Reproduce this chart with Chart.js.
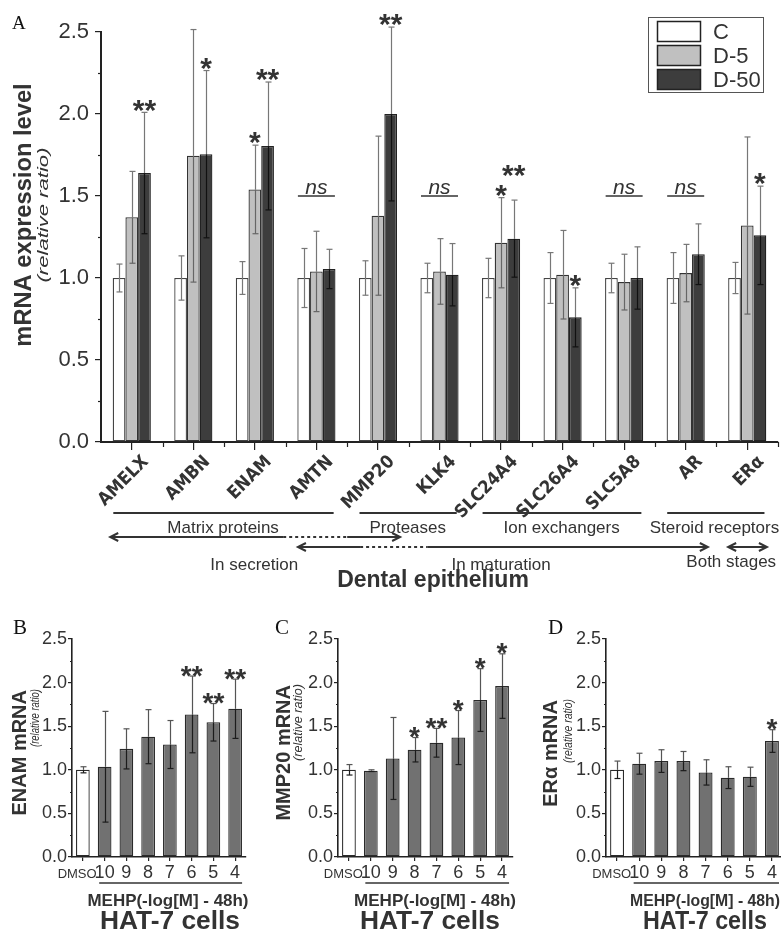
<!DOCTYPE html>
<html>
<head>
<meta charset="utf-8">
<script src="https://cdn.jsdelivr.net/npm/chart.js@4.4.1/dist/chart.umd.min.js"></script>
<style>
  html, body { margin: 0; padding: 0; background: #fff; }
  #fig { position: relative; width: 781px; height: 931px; overflow: hidden; }
  #fig canvas { position: absolute; }
</style>
</head>
<body>
<div id="fig">
  <canvas id="chartA" width="781" height="600" style="left:0;top:0"></canvas>
  <canvas id="chartB" width="260" height="331" style="left:0;top:600px"></canvas>
  <canvas id="chartC" width="260" height="331" style="left:260px;top:600px"></canvas>
  <canvas id="chartD" width="263" height="331" style="left:520px;top:600px"></canvas>
</div>
<script>
// ---- panel A : dental epithelium ----
const genes = ['AMELX', 'AMBN', 'ENAM', 'AMTN', 'MMP20', 'KLK4', 'SLC24A4', 'SLC26A4', 'SLC5A8', 'AR', 'ERα'];
const groups = ['C', 'D-5', 'D-50'];
const valC   = [1, 1, 1, 1, 1, 1, 1, 1, 1, 1, 1];
const valD5  = [1.37, 1.745, 1.54, 1.04, 1.38, 1.04, 1.215, 1.02, 0.975, 1.03, 1.32];
const valD50 = [1.64, 1.755, 1.805, 1.055, 2.0, 1.02, 1.24, 0.76, 1.0, 1.145, 1.26];
const errC   = [0.085, 0.135, 0.10, 0.18, 0.105, 0.09, 0.12, 0.155, 0.09, 0.155, 0.095];
const errD5  = [0.28, 0.77, 0.27, 0.245, 0.485, 0.20, 0.275, 0.27, 0.17, 0.175, 0.54];
const errD50 = [0.37, 0.51, 0.39, 0.12, 0.53, 0.19, 0.235, 0.18, 0.19, 0.185, 0.30];
const sigC   = ['', '', '', '', '', '', '', '', '', '', ''];
const sigD5  = ['', '', '*', '', '', '', '*', '', '', '', ''];
const sigD50 = ['**', '*', '**', '', '**', '', '**', '*', '', '', '*'];
const nsGenes = ['AMTN', 'KLK4', 'SLC5A8', 'AR'];
const nsLevel = 1.5;
const yTicksA = [0, 0.5, 1.0, 1.5, 2.0, 2.5];

// gene families (first / last gene index)
const families = ['Matrix proteins', 'Proteases', 'Ion exchangers', 'Steroid receptors'];
const familySpan = [[0, 3], [4, 5], [6, 8], [9, 10]];
// stage arrows in category units: start, dotted from, dotted to, end
const secretionArrow = [-0.35, 2.46, 3.5, 4.36];
const maturationArrow = [2.7, 3.71, 4.81, 9.36];
const bothArrow = [9.69, 10.32];

// ---- panels B-D : HAT-7 cells ----
const doses = ['DMSO', '10', '9', '8', '7', '6', '5', '4'];
const enamVal = [1.0, 1.035, 1.24, 1.38, 1.29, 1.635, 1.545, 1.70];
const enamErr = [0.035, 0.635, 0.23, 0.31, 0.275, 0.44, 0.215, 0.34];
const enamSig = ['', '', '', '', '', '**', '**', '**'];
const mmpVal = [1.0, 0.99, 1.13, 1.23, 1.31, 1.37, 1.80, 1.96];
const mmpErr = [0.06, 0.01, 0.47, 0.14, 0.165, 0.31, 0.36, 0.37];
const mmpSig = ['', '', '', '*', '**', '*', '*', '*'];
const eraVal = [1.0, 1.07, 1.10, 1.10, 0.97, 0.91, 0.92, 1.33];
const eraErr = [0.10, 0.12, 0.13, 0.11, 0.145, 0.125, 0.11, 0.13];
const eraSig = ['', '', '', '', '', '', '', '*'];

const SANS = '"Liberation Sans", Arial, Helvetica, sans-serif';
const NARROW = '"Liberation Sans Narrow", "DejaVu Sans Condensed", "Liberation Sans", sans-serif';
const SERIF = '"Liberation Serif", "Times New Roman", serif';
const INK = '#333';

function seg(ctx, x1, y1, x2, y2) {
    ctx.beginPath();
    ctx.moveTo(x1, y1);
    ctx.lineTo(x2, y2);
    ctx.stroke();
}

// text squeezed or stretched along its own direction to a given length
function fitText(ctx, text, x, y, len, align) {
    const w = ctx.measureText(text).width;
    ctx.save();
    ctx.translate(x, y);
    ctx.scale(len / w, 1);
    ctx.textAlign = align;
    ctx.fillText(text, 0, 0);
    ctx.restore();
}

function drawErrorBars(chart, errs, inColors, outColor, cap) {
    const ctx = chart.ctx;
    const ys = chart.scales.y;
    ctx.save();
    ctx.lineWidth = 1.2;
    chart.data.datasets.forEach((ds, i) => {
        chart.getDatasetMeta(i).data.forEach((bar, j) => {
            const v = ds.data[j], e = errs[i][j];
            const x = Math.round(bar.x) + 0.5;
            const yt = ys.getPixelForValue(v + e), yb = ys.getPixelForValue(v - e);
            ctx.strokeStyle = inColors[i];
            seg(ctx, x, yb, x, bar.y);
            seg(ctx, x - cap, yb, x + cap, yb);
            ctx.strokeStyle = outColor;
            seg(ctx, x, bar.y, x, yt);
            seg(ctx, x - cap, yt, x + cap, yt);
        });
    });
    ctx.restore();
}

function drawStars(chart, errs, sigs, size, gap) {
    const ctx = chart.ctx;
    const ys = chart.scales.y;
    ctx.save();
    ctx.fillStyle = INK;
    ctx.font = 'bold ' + size + 'px ' + SANS;
    ctx.textAlign = 'center';
    ctx.textBaseline = 'alphabetic';
    const lastTop = {};
    chart.data.datasets.forEach((ds, i) => {
        chart.getDatasetMeta(i).data.forEach((bar, j) => {
            const s = sigs[i][j];
            if (!s) return;
            const yt = ys.getPixelForValue(ds.data[j] + errs[i][j]);
            let inkBottom = yt - gap;
            if (lastTop[j] !== undefined && inkBottom > lastTop[j] - 10) inkBottom = lastTop[j] - 10;
            ctx.fillText(s, bar.x, inkBottom + size * 0.41);
            lastTop[j] = inkBottom - size * 0.33;
        });
    });
    ctx.restore();
}

function minorYTicks(chart, step, len) {
    const ctx = chart.ctx, ys = chart.scales.y, left = chart.chartArea.left;
    ctx.save();
    ctx.strokeStyle = '#222';
    ctx.lineWidth = 1.2;
    for (let v = step; v < ys.max; v += 2 * step) {
        const y = Math.round(ys.getPixelForValue(v)) + 0.5;
        seg(ctx, left - len, y, left, y);
    }
    ctx.restore();
}

function arrowHead(ctx, x, y, dir) {
    ctx.beginPath();
    ctx.moveTo(x + dir * 8, y - 4);
    ctx.lineTo(x, y);
    ctx.lineTo(x + dir * 8, y + 4);
    ctx.stroke();
}

const panelA = {
    id: 'panelA',
    afterDatasetsDraw(chart) {
        drawErrorBars(chart, [errC, errD5, errD50], ['#777', '#666', '#111'], '#777', 3);
    },
    afterDraw(chart) {
        const ctx = chart.ctx;
        const {x: xs, y: ys} = chart.scales;
        const area = chart.chartArea;
        const cw = xs.getPixelForValue(1) - xs.getPixelForValue(0);
        drawStars(chart, [errC, errD5, errD50], [sigC, sigD5, sigD50], 30, 5);
        minorYTicks(chart, 0.25, 3);

        ctx.save();
        ctx.strokeStyle = '#222';
        ctx.lineWidth = 1.2;
        for (let j = 1; j <= genes.length; j++) {
            const x = Math.round(xs.getPixelForValue(j - 0.5)) + 0.5;
            seg(ctx, x, area.bottom, x, area.bottom + 5);
        }

        // ns markers
        ctx.fillStyle = INK;
        ctx.strokeStyle = INK;
        ctx.font = 'italic 21px ' + SANS;
        ctx.textAlign = 'center';
        ctx.lineWidth = 1.5;
        const nsY = ys.getPixelForValue(nsLevel);
        nsGenes.forEach(g => {
            const x = xs.getPixelForValue(genes.indexOf(g));
            seg(ctx, x - 18.5, nsY, x + 18.5, nsY);
            ctx.fillText('ns', x, nsY - 2);
        });

        // rotated gene names
        ctx.font = 'bold 18px ' + NARROW;
        ctx.textAlign = 'right';
        ctx.textBaseline = 'middle';
        genes.forEach((g, j) => {
            ctx.save();
            ctx.translate(xs.getPixelForValue(j) + 14, area.bottom + 17);
            ctx.rotate(-Math.PI / 4);
            ctx.fillText(g, 0, 0);
            ctx.restore();
        });

        // families
        ctx.textBaseline = 'alphabetic';
        ctx.textAlign = 'center';
        ctx.font = '17px ' + SANS;
        ctx.lineWidth = 2.2;
        families.forEach((f, k) => {
            const x1 = xs.getPixelForValue(familySpan[k][0]) - 0.3 * cw;
            const x2 = xs.getPixelForValue(familySpan[k][1]) + 0.28 * cw;
            seg(ctx, x1, area.bottom + 71, x2, area.bottom + 71);
        });
        ctx.fillText(families[0], xs.getPixelForValue(1.5) - 1, area.bottom + 91);
        ctx.fillText(families[1], xs.getPixelForValue(4.5) - 1, area.bottom + 91);
        ctx.fillText(families[2], xs.getPixelForValue(7.0) - 1, area.bottom + 91);
        ctx.fillText(families[3], xs.getPixelForValue(9.5) - 2, area.bottom + 91);

        // stage arrows
        ctx.lineWidth = 2;
        [[secretionArrow, 95], [maturationArrow, 105]].forEach(([a, dy]) => {
            const y = area.bottom + dy;
            const p = a.map(v => xs.getPixelForValue(v));
            seg(ctx, p[0], y, p[1], y);
            seg(ctx, p[2], y, p[3], y);
            ctx.setLineDash([3, 3]);
            seg(ctx, p[1], y, p[2], y);
            ctx.setLineDash([]);
            arrowHead(ctx, p[0], y, 1);
            arrowHead(ctx, p[3], y, -1);
        });
        const b0 = xs.getPixelForValue(bothArrow[0]), b1 = xs.getPixelForValue(bothArrow[1]);
        seg(ctx, b0, area.bottom + 105, b1, area.bottom + 105);
        arrowHead(ctx, b0, area.bottom + 105, 1);
        arrowHead(ctx, b1, area.bottom + 105, -1);

        ctx.fillText('In secretion', xs.getPixelForValue(1.99), area.bottom + 128);
        ctx.fillText('In maturation', xs.getPixelForValue(6.0), area.bottom + 128);
        ctx.fillText('Both stages', xs.getPixelForValue(9.74), area.bottom + 125);
        ctx.font = 'bold 23px ' + SANS;
        ctx.fillText('Dental epithelium', 433, area.bottom + 145);

        // axis title
        ctx.save();
        ctx.translate(31, 215);
        ctx.rotate(-Math.PI / 2);
        ctx.font = 'bold 23.7px ' + SANS;
        ctx.textAlign = 'center';
        ctx.fillText('mRNA expression level', 0, 0);
        ctx.font = 'italic 15px ' + SANS;
        ctx.translate(0, 17);
        fitText(ctx, '(relative ratio)', 0, 0, 135, 'center');
        ctx.restore();

        // legend
        ctx.fillStyle = '#fff';
        ctx.strokeStyle = '#555';
        ctx.lineWidth = 1;
        ctx.fillRect(648.5, 17.5, 115, 75);
        ctx.strokeRect(648.5, 17.5, 115, 75);
        ctx.font = '22px ' + SANS;
        ctx.textAlign = 'left';
        ctx.textBaseline = 'middle';
        chart.data.datasets.forEach((ds, i) => {
            const top = 21.5 + i * 24;
            ctx.fillStyle = ds.backgroundColor;
            ctx.fillRect(657.5, top, 43, 20);
            ctx.strokeStyle = '#222';
            ctx.lineWidth = 1.5;
            ctx.strokeRect(657.5, top, 43, 20);
            ctx.fillStyle = INK;
            ctx.fillText(ds.label, 713, top + 11);
        });

        ctx.font = '19px ' + SERIF;
        ctx.textBaseline = 'alphabetic';
        ctx.fillStyle = '#111';
        ctx.fillText('A', 12, 29);
        ctx.restore();
    }
};

new Chart(document.getElementById('chartA'), {
    type: 'bar',
    data: {
        labels: genes,
        datasets: [
            {label: groups[0], data: valC, backgroundColor: '#ffffff', borderColor: '#444'},
            {label: groups[1], data: valD5, backgroundColor: '#c0c0c0', borderColor: '#333'},
            {label: groups[2], data: valD50, backgroundColor: '#3d3d3d', borderColor: '#222'}
        ]
    },
    options: {
        responsive: false,
        animation: false,
        devicePixelRatio: 1,
        layout: {padding: {top: 32, right: 3, left: 0, bottom: 0}},
        datasets: {bar: {categoryPercentage: 0.62, barPercentage: 1.0, borderWidth: 1.3, borderSkipped: false}},
        plugins: {legend: {display: false}, tooltip: {enabled: false}},
        scales: {
            x: {
                grid: {offset: false, drawOnChartArea: false, tickLength: 8, color: '#222', lineWidth: 1.2},
                border: {color: '#222', width: 2},
                ticks: {display: false},
                afterFit: s => { s.height = 158; }
            },
            y: {
                min: 0, max: 2.5,
                afterBuildTicks: s => { s.ticks = yTicksA.map(v => ({value: v})); },
                ticks: {callback: v => v.toFixed(1), font: {family: SANS, size: 22}, color: INK, padding: 6},
                grid: {drawOnChartArea: false, tickLength: 6, color: '#222', lineWidth: 1.2},
                border: {color: '#222', width: 2},
                afterFit: s => { s.width = 101; }
            }
        }
    },
    plugins: [panelA]
});

// ---- small panels ----
function smallPanel(id, letter, vals, errs, sigs, title, geo) {
    const plugin = {
        id: 'small' + letter,
        afterDatasetsDraw(chart) {
            drawErrorBars(chart, [errs], ['#1c1c1c'], '#555', 3);
        },
        afterDraw(chart) {
            const ctx = chart.ctx;
            const xs = chart.scales.x;
            const area = chart.chartArea;
            const cw = xs.getPixelForValue(1) - xs.getPixelForValue(0);
            drawStars(chart, [errs], [sigs], 28, 3);
            minorYTicks(chart, 0.25, 2);
            ctx.save();
            ctx.fillStyle = INK;
            ctx.strokeStyle = INK;
            doses.forEach((d, j) => {
                if (j === 0) {
                    ctx.font = '13px ' + SANS;
                    ctx.textAlign = 'right';
                    ctx.fillText(d, xs.getPixelForValue(1) - 8, area.bottom + 21);
                } else {
                    ctx.font = '18px ' + SANS;
                    ctx.textAlign = 'center';
                    ctx.fillText(d, xs.getPixelForValue(j), area.bottom + 21);
                }
            });
            ctx.textAlign = 'center';
            ctx.lineWidth = 1.6;
            seg(ctx, xs.getPixelForValue(1) - 0.25 * cw, area.bottom + 26,
                xs.getPixelForValue(doses.length - 1) + 0.32 * cw, area.bottom + 26);
            ctx.font = 'bold 17px ' + SANS;
            fitText(ctx, 'MEHP(-log[M] - 48h)', geo.mehpX, area.bottom + 49, geo.mehpW, 'center');
            ctx.font = 'bold 25px ' + SANS;
            fitText(ctx, 'HAT-7 cells', geo.hatX, area.bottom + 72, geo.hatW, 'center');

            ctx.save();
            ctx.translate(geo.titleX, geo.titleEnd);
            ctx.rotate(-Math.PI / 2);
            ctx.textAlign = 'right';
            ctx.font = 'bold 20px ' + SANS;
            ctx.fillText(title, 0, 0);
            ctx.font = 'italic 12px ' + SANS;
            fitText(ctx, '(relative ratio)', 1, geo.relDx, geo.relLen, 'right');
            ctx.restore();

            ctx.font = '21px ' + SERIF;
            ctx.fillStyle = '#111';
            ctx.textAlign = 'left';
            ctx.fillText(letter, geo.letterX, 34);
            ctx.restore();
        }
    };
    return new Chart(document.getElementById(id), {
        type: 'bar',
        data: {
            labels: doses,
            datasets: [{
                label: title,
                data: vals,
                backgroundColor: doses.map((d, j) => j === 0 ? '#ffffff' : '#717171'),
                borderColor: '#2a2a2a'
            }]
        },
        options: {
            responsive: false,
            animation: false,
            devicePixelRatio: 1,
            layout: {padding: {top: 39, right: geo.padRight, left: 0, bottom: 0}},
            datasets: {bar: {categoryPercentage: 0.63, barPercentage: 1.0, borderWidth: 1.3, borderSkipped: false}},
            plugins: {legend: {display: false}, tooltip: {enabled: false}},
            scales: {
                x: {
                    grid: {offset: false, drawOnChartArea: false, tickLength: 4, color: '#222', lineWidth: 1.2},
                    border: {color: '#222', width: 1.6},
                    ticks: {display: false},
                    afterFit: s => { s.height = 74; }
                },
                y: {
                    min: 0, max: 2.5,
                    afterBuildTicks: s => { s.ticks = yTicksA.map(v => ({value: v})); },
                    ticks: {callback: v => v.toFixed(1), font: {family: SANS, size: 18}, color: INK, padding: 1},
                    grid: {drawOnChartArea: false, tickLength: 4, color: '#222', lineWidth: 1.2},
                    border: {color: '#222', width: 1.6},
                    afterFit: s => { s.width = geo.axisX; }
                }
            }
        },
        plugins: [plugin]
    });
}

smallPanel('chartB', 'B', enamVal, enamErr, enamSig, 'ENAM mRNA',
    {axisX: 72, padRight: 14, titleX: 26, titleEnd: 90, relDx: 13, relLen: 58,
     mehpX: 168, mehpW: 161, hatX: 170, hatW: 140, letterX: 13});
smallPanel('chartC', 'C', mmpVal, mmpErr, mmpSig, 'MMP20 mRNA',
    {axisX: 78, padRight: 7, titleX: 30, titleEnd: 85, relDx: 12, relLen: 77,
     mehpX: 175, mehpW: 162, hatX: 170, hatW: 140, letterX: 15});
smallPanel('chartD', 'D', eraVal, eraErr, eraSig, 'ERα mRNA',
    {axisX: 86, padRight: 0, titleX: 37, titleEnd: 100, relDx: 15, relLen: 64,
     mehpX: 185, mehpW: 150, hatX: 185, hatW: 124, letterX: 28});
</script>
</body>
</html>
